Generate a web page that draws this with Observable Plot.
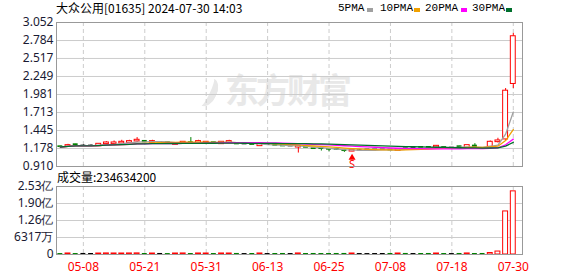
<!DOCTYPE html>
<html><head><meta charset="utf-8">
<script src="https://cdn.jsdelivr.net/npm/d3@7"></script>
<script src="https://cdn.jsdelivr.net/npm/@observablehq/plot@0.6"></script>
<style>
body{margin:0;background:#fff;width:578px;height:276px;overflow:hidden;position:relative;font-family:"Liberation Sans",Arial,sans-serif}
.abs{position:absolute;white-space:nowrap}
#wm{left:198px;top:64px;font:bold 34px "Noto Sans CJK SC";color:#e8e8e8;letter-spacing:-3px}
#wm .logo{display:inline-block;width:12px;height:30px;border-radius:50%;border-right:7px solid #e8e8e8;transform:rotate(25deg);margin-right:8px;vertical-align:-4px}
#title{left:56px;top:0px;font:12px "Noto Sans CJK SC";line-height:16px;color:#000}
#vtitle{left:57px;top:169px;font:12px "Noto Sans CJK SC";line-height:16px;color:#000}
.lg{top:1px;font:11px "Liberation Mono";line-height:14px;color:#000}
.sq{top:8px;width:6px;height:4px}
svg{background:transparent}
</style></head><body>
<div id="wm" class="abs"><span class="logo"></span>东方财富</div>
<div id="price" class="abs" style="left:0;top:0"></div>
<div id="vol" class="abs" style="left:0;top:170px"></div>
<div id="title" class="abs">大众公用[01635] 2024-07-30 14:03</div>
<div id="legend"></div>
<div id="vtitle" class="abs"></div>
<script>
const dates = ["05-03","05-06","05-07","05-08","05-09","05-10","05-13","05-14","05-16","05-17",
"05-20","05-21","05-22","05-23","05-24","05-27","05-28","05-29","05-30","05-31",
"06-03","06-04","06-05","06-06","06-07","06-11","06-12","06-13","06-14","06-17",
"06-18","06-19","06-20","06-21","06-24","06-25","06-26","06-27","06-28","07-02",
"07-03","07-04","07-05","07-08","07-09","07-10","07-11","07-12","07-15","07-16",
"07-17","07-18","07-19","07-22","07-23","07-24","07-25","07-26","07-29","07-30"];
const open  = [1.21,1.21,1.24,1.22,1.22,1.22,1.25,1.25,1.26,1.27, 1.29,1.29,1.27,1.27,1.27,1.24,1.26,1.27,1.27,1.26,
1.27,1.25,1.27,1.25,1.24,1.25,1.22,1.23,1.23,1.22, 1.21,1.20,1.20,1.18,1.18,1.17,1.17,1.15,1.14,1.15,
1.16,1.16,1.16,1.16,1.15,1.20,1.19,1.20,1.20,1.20, 1.20,1.19,1.21,1.18,1.22,1.18,1.21,1.28,1.32,2.145];
const high  = [1.21,1.24,1.24,1.23,1.23,1.24,1.28,1.29,1.30,1.30, 1.34,1.29,1.30,1.28,1.27,1.26,1.27,1.34,1.30,1.28,
1.27,1.27,1.30,1.25,1.25,1.25,1.24,1.24,1.23,1.22, 1.21,1.21,1.20,1.18,1.18,1.17,1.17,1.15,1.15,1.16,
1.16,1.16,1.16,1.16,1.16,1.20,1.19,1.20,1.20,1.22, 1.20,1.19,1.21,1.22,1.25,1.18,1.29,1.33,2.07,2.89];
const low   = [1.20,1.21,1.21,1.22,1.22,1.22,1.22,1.22,1.25,1.26, 1.27,1.27,1.26,1.26,1.26,1.24,1.26,1.26,1.27,1.26,
1.26,1.25,1.27,1.24,1.24,1.23,1.22,1.23,1.22,1.21, 1.21,1.11,1.19,1.17,1.14,1.13,1.15,1.12,1.13,1.15,
1.15,1.16,1.16,1.15,1.15,1.19,1.19,1.19,1.19,1.19, 1.19,1.19,1.20,1.18,1.19,1.17,1.21,1.26,1.30,2.07];
const close = [1.20,1.22,1.23,1.22,1.22,1.24,1.26,1.26,1.27,1.28, 1.30,1.27,1.28,1.27,1.26,1.25,1.27,1.26,1.28,1.27,
1.26,1.27,1.28,1.24,1.24,1.23,1.24,1.23,1.22,1.21, 1.21,1.21,1.19,1.17,1.17,1.16,1.16,1.14,1.15,1.15,
1.16,1.16,1.16,1.15,1.16,1.19,1.19,1.19,1.19,1.21, 1.19,1.19,1.20,1.22,1.19,1.17,1.27,1.29,2.03,2.84];
const volume = [3.5e6,3.8e6,3.6e6,3.9e6,3.7e6,3.6e6,4.0e6,3.8e6,3.7e6,3.9e6, 4.1e6,3.7e6,3.6e6,3.8e6,3.5e6,3.7e6,3.9e6,3.6e6,3.8e6,3.7e6,
3.6e6,3.8e6,3.7e6,3.9e6,3.5e6,3.7e6,3.8e6,3.6e6,3.7e6,3.8e6, 3.6e6,3.9e6,3.7e6,3.8e6,3.6e6,3.7e6,3.8e6,3.9e6,3.7e6,3.6e6,
3.5e6,3.6e6,3.7e6,3.8e6,3.7e6,3.9e6,3.6e6,3.7e6,3.8e6,3.7e6, 3.6e6,3.5e6,3.8e6,3.9e6,3.7e6,3.8e6,5.5e6,1.1e7,1.6e8,234634200];
const priceTicks = [0.910,1.178,1.445,1.713,1.981,2.249,2.517,2.784,3.052];
const volTicks = [0,63170000,126340000,189500000,252680000];
const volTickLabels = ["0","6317万","1.26亿","1.90亿","2.53亿"];
const xTickLabels = ["05-08","05-21","05-31","06-13","06-25","07-08","07-18","07-30"];
const maNames = ["5PMA","10PMA","20PMA","30PMA"];
const maPeriods = [5,10,20,30];
const maColors = ["#a0a0a0","#f0a000","#ff00ff","#006f2c"];
const sMarkDate = "06-28";

const RED = "#ff0000", GREEN = "#008000", BLACK = "#000000";
const rows = dates.map((d,i)=>({i,date:d,open:open[i],high:high[i],low:low[i],close:close[i],volume:volume[i]}));
rows.forEach((r,i)=>{
  if (r.close>r.open) r.color=RED; else if (r.close<r.open) r.color=GREEN; else r.color=BLACK;
  r.up = r.close>r.open;
});
const tickIdx = xTickLabels.map(l=>dates.indexOf(l));
const xDomain = [-0.5, 60.2];
const W = 578, ML = 56, MR = 56;

const maMarks = maPeriods.map((k,j)=>Plot.lineY(rows, Plot.windowY({k, anchor:"end", reduce:"mean"},
  {x:"i", y:"close", stroke:maColors[j], strokeWidth:1.3})));

const sRow = rows.filter(r=>r.date===sMarkDate);

const price = Plot.plot({
  width:W, height:170, marginTop:22, marginBottom:4, marginLeft:ML, marginRight:MR,
  x:{type:"linear", domain:xDomain, axis:null},
  y:{domain:[priceTicks[0], priceTicks[priceTicks.length-1]], axis:null},
  style:{background:"transparent", overflow:"visible"},
  marks:[
    Plot.gridY(priceTicks, {stroke:"#cccccc", strokeOpacity:1}),
    Plot.gridX(tickIdx, {stroke:"#cccccc", strokeOpacity:1, strokeDasharray:"4,3"}),
    Plot.axisY(priceTicks, {tickSize:0, tickPadding:3, label:null, tickFormat:d=>d.toFixed(3), fontSize:12, fill:"#1a1a33"}),
    Plot.ruleX(rows, {x:"i", y1:"low", y2:"high", stroke:"color"}),
    Plot.rect(rows, {x1:d=>d.i-0.32, x2:d=>d.i+0.32, y1:"open", y2:"close",
      fill:d=>d.up?"#ffffff":d.color, stroke:d=>d.up?d.color:"none", insetTop:-0.5, insetBottom:-0.5}),
    ...maMarks,
    Plot.dot(sRow, {x:"i", y:"low", symbol:"triangle", r:2.6, fill:RED, dy:6}),
    Plot.text(sRow, {x:"i", y:"low", text:()=>"S", fill:RED, fontSize:11, dy:13}),
    Plot.frame({stroke:"#999999"})
  ]
});
document.getElementById("price").appendChild(price);

const vol = Plot.plot({
  width:W, height:106, marginTop:16, marginBottom:22, marginLeft:ML, marginRight:MR,
  x:{type:"linear", domain:xDomain, axis:null},
  y:{domain:[0, volTicks[volTicks.length-1]], axis:null},
  style:{background:"transparent", overflow:"visible"},
  marks:[
    Plot.gridY(volTicks, {stroke:"#cccccc", strokeOpacity:1}),
    Plot.gridX(tickIdx, {stroke:"#cccccc", strokeOpacity:1, strokeDasharray:"4,3"}),
    Plot.axisY(volTicks, {tickSize:0, tickPadding:3, label:null, tickFormat:(d,i)=>volTickLabels[i], fontSize:12, fill:"#1a1a33"}),
    Plot.axisX(tickIdx, {tickSize:0, tickPadding:8, label:null, tickFormat:(d,i)=>xTickLabels[i], fontSize:12, fill:RED}),
    Plot.rect(rows, {x1:d=>d.i-0.32, x2:d=>d.i+0.32, y1:0, y2:"volume",
      fill:d=>d.up?"#ffffff":d.color, stroke:d=>d.up?d.color:"none"}),
    Plot.frame({stroke:"#999999"})
  ]
});
document.getElementById("vol").appendChild(vol);

document.getElementById("vtitle").textContent = "成交量:" + volume[volume.length-1];

const lgX = [338,380,425,472], sqX = [367,414,461,506];
const lg = document.getElementById("legend");
maNames.forEach((n,j)=>{
  const t = document.createElement("div"); t.className="abs lg"; t.style.left=lgX[j]+"px"; t.textContent=n; lg.appendChild(t);
  const s = document.createElement("div"); s.className="abs sq"; s.style.left=sqX[j]+"px"; s.style.background=maColors[j]; lg.appendChild(s);
});
</script>
</body></html>
